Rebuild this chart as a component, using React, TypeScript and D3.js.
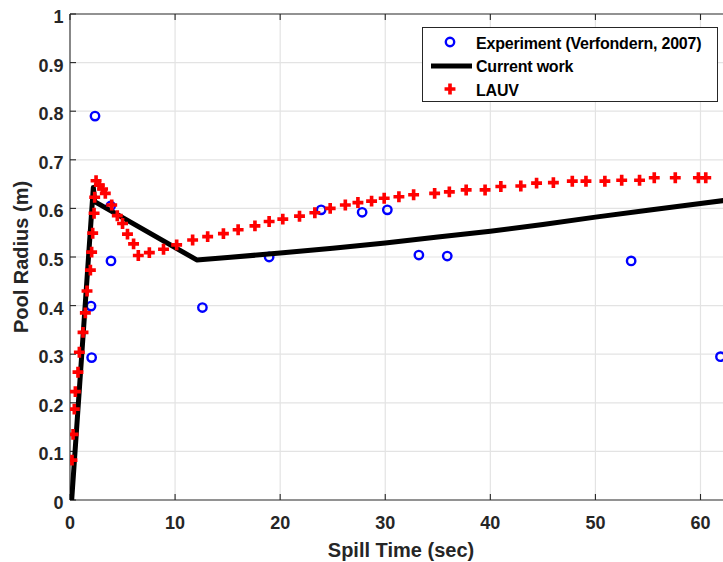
import React, { useEffect, useRef } from "react";
import * as d3 from "d3";

const xTicks = [0, 10, 20, 30, 40, 50, 60];
const yTicks = [0, 0.1, 0.2, 0.3, 0.4, 0.5, 0.6, 0.7, 0.8, 0.9, 1];
const yTickLabels = ["0", "0.1", "0.2", "0.3", "0.4", "0.5", "0.6", "0.7", "0.8", "0.9", "1"];

const experimentX = [2.0, 2.06, 2.38, 3.87, 3.9, 12.6, 18.95, 23.9, 27.8, 30.2, 33.2, 35.9, 53.4, 61.9];
const experimentY = [0.399, 0.293, 0.79, 0.605, 0.492, 0.396, 0.5, 0.597, 0.592, 0.597, 0.504, 0.502, 0.492, 0.295];

const currentX = [0.16, 2.22, 2.35, 12.06, 15, 20, 25, 30, 35, 40, 45, 50, 55, 60, 62.5];
const currentY = [0.0, 0.643, 0.614, 0.494, 0.499, 0.508, 0.518, 0.529, 0.541, 0.553, 0.567, 0.582, 0.596, 0.61, 0.617];

const lauvX = [
  0.19, 0.29, 0.41, 0.51, 0.76, 0.89, 1.24, 1.46, 1.62, 1.94, 2.06, 2.16, 2.29, 2.35, 2.48, 2.79, 3.1, 3.36,
  3.97, 4.5, 5.0, 5.47, 6.05, 6.5, 7.55, 8.9, 10.15, 11.67, 13.1, 14.6, 16.0, 17.6, 18.95, 20.25, 21.84,
  23.3, 24.76, 26.2, 27.4, 28.7, 29.9, 31.3, 32.7, 34.7, 36.1, 37.7, 39.5, 41.0, 42.9, 44.4, 46.0, 47.8,
  49.1, 50.9, 52.5, 54.2, 55.6, 57.6, 59.8, 60.5,
];
const lauvY = [
  0.082, 0.135, 0.187, 0.223, 0.263, 0.304, 0.345, 0.385, 0.43, 0.473, 0.51, 0.549, 0.59, 0.623, 0.657, 0.648,
  0.64, 0.631, 0.607, 0.585, 0.569, 0.547, 0.527, 0.503, 0.509, 0.516, 0.525, 0.535, 0.542, 0.548, 0.556,
  0.564, 0.573, 0.578, 0.584, 0.591, 0.6, 0.607, 0.612, 0.615, 0.621, 0.624, 0.628, 0.631, 0.634, 0.638,
  0.638, 0.645, 0.646, 0.652, 0.653, 0.656, 0.656, 0.656, 0.658, 0.658, 0.663, 0.663, 0.663, 0.663,
];

const legendLabels = ["Experiment (Verfondern, 2007)", "Current work", "LAUV"];

const W = 723;
const H = 562;
const left = 70;
const top = 14;
const bottom = 500;
const rightClip = 760;
const axisColor = "#262626";
const gridColor = "#e3e3e3";
const font = "'Liberation Sans', Arial, Helvetica, sans-serif";

export default function App() {
  const ref = useRef<SVGSVGElement | null>(null);

  useEffect(() => {
    const svg = d3.select(ref.current);
    svg.selectAll("*").remove();

    const x = d3.scaleLinear().domain([0, 60]).range([left, 700.5]);
    const y = d3.scaleLinear().domain([0, 1]).range([bottom, top]);

    svg.append("rect").attr("width", W).attr("height", H).attr("fill", "#fff");

    const defs = svg.append("defs");
    defs
      .append("clipPath")
      .attr("id", "plotclip")
      .append("rect")
      .attr("x", left)
      .attr("y", top)
      .attr("width", rightClip - left)
      .attr("height", bottom - top);

    const grid = svg.append("g");
    xTicks.forEach((t) => {
      if (t === 0) return;
      grid
        .append("line")
        .attr("x1", x(t))
        .attr("x2", x(t))
        .attr("y1", top)
        .attr("y2", bottom)
        .attr("stroke", gridColor)
        .attr("stroke-width", 1.2);
    });
    yTicks.forEach((t) => {
      if (t === 0 || t === 1) return;
      grid
        .append("line")
        .attr("x1", left)
        .attr("x2", rightClip)
        .attr("y1", y(t))
        .attr("y2", y(t))
        .attr("stroke", gridColor)
        .attr("stroke-width", 1.2);
    });

    const ax = svg.append("g").attr("stroke", axisColor).attr("stroke-width", 1.1);
    ax.append("line").attr("x1", left).attr("x2", rightClip).attr("y1", bottom).attr("y2", bottom);
    ax.append("line").attr("x1", left).attr("x2", rightClip).attr("y1", top).attr("y2", top);
    ax.append("line").attr("x1", left).attr("x2", left).attr("y1", top).attr("y2", bottom);
    xTicks.forEach((t) => {
      ax.append("line").attr("x1", x(t)).attr("x2", x(t)).attr("y1", bottom).attr("y2", bottom - 6);
      ax.append("line").attr("x1", x(t)).attr("x2", x(t)).attr("y1", top).attr("y2", top + 6);
    });
    yTicks.forEach((t) => {
      ax.append("line").attr("x1", left).attr("x2", left + 6).attr("y1", y(t)).attr("y2", y(t));
    });

    const tl = svg
      .append("g")
      .attr("font-family", font)
      .attr("font-weight", "bold")
      .attr("font-size", 18)
      .attr("fill", axisColor);
    xTicks.forEach((t) => {
      tl.append("text").attr("x", x(t)).attr("y", 529).attr("text-anchor", "middle").text(String(t));
    });
    yTicks.forEach((t, i) => {
      tl.append("text")
        .attr("x", 63.5)
        .attr("y", y(t) + 9)
        .attr("text-anchor", "end")
        .text(yTickLabels[i]);
    });

    svg
      .append("text")
      .attr("x", 401)
      .attr("y", 557)
      .attr("text-anchor", "middle")
      .attr("font-family", font)
      .attr("font-weight", "bold")
      .attr("font-size", 20)
      .attr("fill", axisColor)
      .text("Spill Time (sec)");
    svg
      .append("text")
      .attr("transform", `translate(28, ${(top + bottom) / 2}) rotate(-90)`)
      .attr("text-anchor", "middle")
      .attr("font-family", font)
      .attr("font-weight", "bold")
      .attr("font-size", 20)
      .attr("fill", axisColor)
      .text("Pool Radius (m)");

    const plot = svg.append("g").attr("clip-path", "url(#plotclip)");

    experimentX.forEach((vx, i) => {
      plot
        .append("circle")
        .attr("cx", x(vx))
        .attr("cy", y(experimentY[i]))
        .attr("r", 4.2)
        .attr("fill", "none")
        .attr("stroke", "#0000ff")
        .attr("stroke-width", 2.4);
    });

    const pts: [number, number][] = currentX.map((vx, i) => [vx, currentY[i]]);
    const line = d3
      .line<[number, number]>()
      .x((d) => x(d[0]))
      .y((d) => y(d[1]));
    plot
      .append("path")
      .attr("d", line(pts) || "")
      .attr("fill", "none")
      .attr("stroke", "#000")
      .attr("stroke-width", 5)
      .attr("stroke-linejoin", "round");

    const plus = d3.symbol().type(d3.symbolCross).size(66);
    lauvX.forEach((vx, i) => {
      plot
        .append("path")
        .attr("d", plus() || "")
        .attr("transform", `translate(${x(vx)},${y(lauvY[i])})`)
        .attr("fill", "#ff0000");
    });

    const lg = svg.append("g");
    lg.append("rect")
      .attr("x", 422.5)
      .attr("y", 27.5)
      .attr("width", 295)
      .attr("height", 74)
      .attr("fill", "#fff")
      .attr("stroke", "#262626")
      .attr("stroke-width", 1);
    const rows = [43, 66, 90];
    lg.append("circle")
      .attr("cx", 450)
      .attr("cy", rows[0] - 1)
      .attr("r", 4.2)
      .attr("fill", "none")
      .attr("stroke", "#0000ff")
      .attr("stroke-width", 2.4);
    lg.append("line")
      .attr("x1", 431)
      .attr("x2", 472)
      .attr("y1", rows[1])
      .attr("y2", rows[1])
      .attr("stroke", "#000")
      .attr("stroke-width", 5);
    lg.append("path")
      .attr("d", plus() || "")
      .attr("transform", `translate(450,${rows[2] - 1})`)
      .attr("fill", "#ff0000");
    legendLabels.forEach((lab, i) => {
      lg.append("text")
        .attr("x", 476)
        .attr("y", rows[i] + 6)
        .attr("font-family", font)
        .attr("font-weight", "bold")
        .attr("font-size", 16)
        .attr("letter-spacing", -0.2)
        .attr("fill", "#000")
        .text(lab);
    });
  }, []);

  return (
    <div style={{ position: "absolute", left: 0, top: 0 }}>
      <svg ref={ref} width={W} height={H} style={{ display: "block" }} />
    </div>
  );
}
